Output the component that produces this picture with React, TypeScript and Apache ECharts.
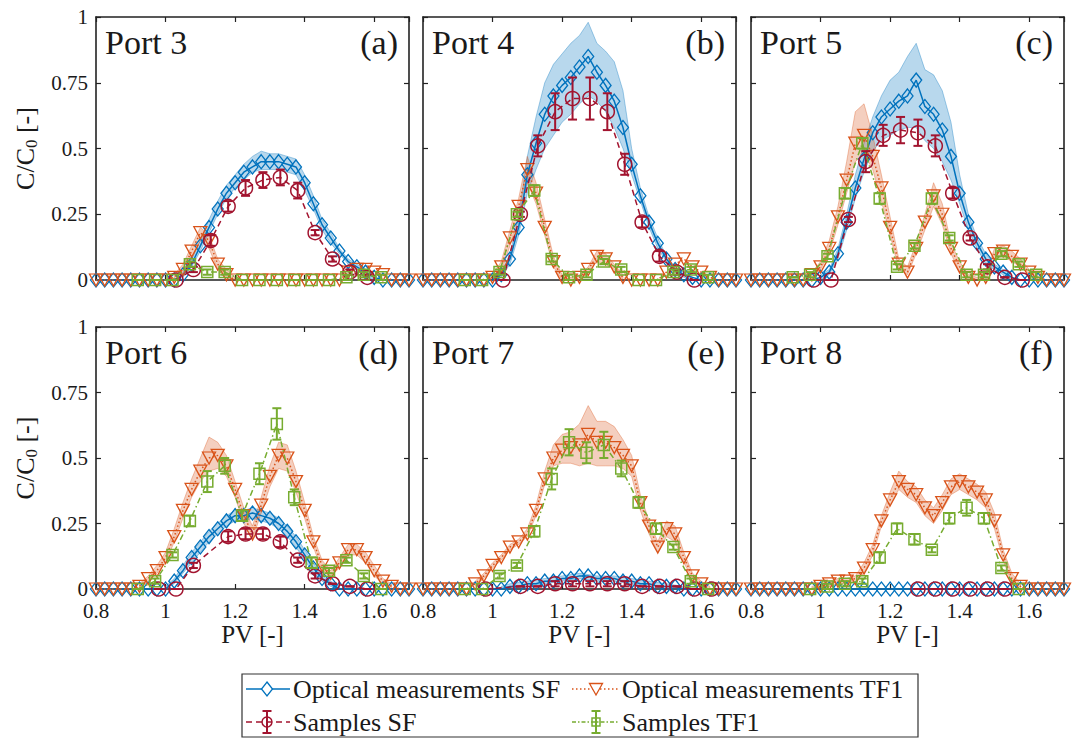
import React, { useEffect, useRef } from "react";
import * as echarts from "echarts";

// ---------------- DATA ----------------
const PV_OPT = [0.8, 0.825, 0.85, 0.875, 0.9, 0.925, 0.95, 0.975, 1, 1.025, 1.05, 1.075, 1.1, 1.125, 1.15, 1.175, 1.2, 1.225, 1.25, 1.275, 1.3, 1.325, 1.35, 1.375, 1.4, 1.425, 1.45, 1.475, 1.5, 1.525, 1.55, 1.575, 1.6, 1.625, 1.65, 1.675, 1.7];

const X_TICK_LABELS = ["0.8", "1", "1.2", "1.4", "1.6"];
const Y_TICK_LABELS = ["0", "0.25", "0.5", "0.75", "1"];
const PORT_NAMES = ["Port 3", "Port 4", "Port 5", "Port 6", "Port 7", "Port 8"];
const PANEL_TAGS = ["(a)", "(b)", "(c)", "(d)", "(e)", "(f)"];
const LEGEND_LABELS = ["Optical measurements SF", "Optical measurements TF1", "Samples SF", "Samples TF1"];

// Optical measurements SF (on PV_OPT)
const OPT_SF_P3 = [0, 0, 0, 0, 0, 0, 0, 0, 0, 0, 0.02, 0.06, 0.13, 0.2, 0.27, 0.33, 0.37, 0.41, 0.43, 0.45, 0.45, 0.45, 0.44, 0.43, 0.37, 0.29, 0.21, 0.16, 0.11, 0.07, 0.05, 0.03, 0.01, 0, 0, 0, 0];
const OPT_SF_P4 = [0, 0, 0, 0, 0, 0, 0, 0, 0, 0.02, 0.08, 0.2, 0.4, 0.52, 0.63, 0.7, 0.74, 0.77, 0.81, 0.85, 0.79, 0.74, 0.68, 0.58, 0.44, 0.32, 0.22, 0.14, 0.08, 0.04, 0.02, 0.01, 0, 0, 0, 0, 0];
const OPT_SF_P5 = [0, 0, 0, 0, 0, 0, 0, 0, 0.01, 0.03, 0.1, 0.22, 0.35, 0.46, 0.56, 0.62, 0.65, 0.68, 0.7, 0.76, 0.66, 0.63, 0.57, 0.47, 0.33, 0.22, 0.14, 0.08, 0.05, 0.03, 0.01, 0, 0, 0, 0, 0, 0];
const OPT_SF_P6 = [0, 0, 0, 0, 0, 0, 0, 0, 0, 0.03, 0.07, 0.12, 0.16, 0.2, 0.23, 0.26, 0.28, 0.28, 0.29, 0.28, 0.27, 0.25, 0.22, 0.18, 0.13, 0.08, 0.04, 0.02, 0, 0, 0, 0, 0, 0, 0, 0, 0];
const OPT_SF_P7 = [0, 0, 0, 0, 0, 0, 0, 0, 0, 0, 0.01, 0.01, 0.02, 0.02, 0.03, 0.03, 0.04, 0.04, 0.05, 0.05, 0.04, 0.04, 0.04, 0.03, 0.03, 0.02, 0.02, 0.01, 0.01, 0.01, 0, 0, 0, 0, 0, 0, 0];
const OPT_SF_P8 = [0, 0, 0, 0, 0, 0, 0, 0, 0, 0, 0, 0, 0, 0, 0, 0, 0, 0, 0, 0, 0, 0, 0, 0, 0, 0, 0, 0, 0, 0, 0, 0, 0, 0, 0, 0, 0];

// Optical measurements TF1 (on PV_OPT)
const OPT_TF_P3 = [0, 0, 0, 0, 0, 0, 0, 0, 0, 0.01, 0.04, 0.11, 0.18, 0.15, 0.06, 0.02, 0, 0, 0, 0, 0, 0, 0, 0, 0, 0, 0, 0, 0, 0.03, 0.04, 0.04, 0.03, 0.02, 0, 0, 0];
const OPT_TF_P4 = [0, 0, 0, 0, 0, 0, 0, 0, 0.01, 0.05, 0.16, 0.28, 0.42, 0.33, 0.2, 0.07, 0.01, 0, 0.01, 0.04, 0.09, 0.08, 0.05, 0.01, 0, 0, 0, 0, 0.03, 0.06, 0.08, 0.05, 0.03, 0.01, 0, 0, 0];
const OPT_TF_P5 = [0, 0, 0, 0, 0, 0, 0, 0.02, 0.05, 0.12, 0.24, 0.38, 0.52, 0.55, 0.47, 0.35, 0.2, 0.06, 0.03, 0.12, 0.22, 0.32, 0.25, 0.12, 0.05, 0.01, 0, 0.01, 0.1, 0.11, 0.09, 0.06, 0.03, 0.01, 0, 0, 0];
const OPT_TF_P6 = [0, 0, 0, 0, 0, 0.01, 0.04, 0.07, 0.12, 0.2, 0.3, 0.38, 0.45, 0.5, 0.51, 0.47, 0.38, 0.28, 0.21, 0.32, 0.43, 0.51, 0.5, 0.41, 0.3, 0.18, 0.09, 0.06, 0.1, 0.15, 0.15, 0.12, 0.07, 0.03, 0.01, 0, 0];
const OPT_TF_P7 = [0, 0, 0, 0, 0, 0, 0.02, 0.05, 0.09, 0.12, 0.16, 0.18, 0.21, 0.3, 0.42, 0.5, 0.53, 0.54, 0.55, 0.59, 0.56, 0.56, 0.54, 0.51, 0.47, 0.33, 0.24, 0.16, 0.23, 0.21, 0.12, 0.05, 0.02, 0, 0, 0, 0];
const OPT_TF_P8 = [0, 0, 0, 0, 0, 0, 0, 0, 0.01, 0.02, 0.03, 0.03, 0.04, 0.08, 0.15, 0.26, 0.34, 0.41, 0.38, 0.36, 0.31, 0.28, 0.33, 0.39, 0.41, 0.39, 0.37, 0.34, 0.26, 0.13, 0.04, 0.01, 0, 0, 0, 0, 0];

// Shaded spread of optical measurements: [PV, lower, upper]
const BAND_SF_P3 = [[1.05, 0.01, 0.03], [1.075, 0.05, 0.08], [1.1, 0.11, 0.15], [1.125, 0.18, 0.23], [1.15, 0.25, 0.3], [1.175, 0.31, 0.36], [1.2, 0.35, 0.4], [1.225, 0.38, 0.44], [1.25, 0.41, 0.47], [1.275, 0.42, 0.49], [1.3, 0.42, 0.48], [1.325, 0.42, 0.48], [1.35, 0.41, 0.47], [1.375, 0.4, 0.46], [1.4, 0.34, 0.4], [1.425, 0.27, 0.32], [1.45, 0.19, 0.23], [1.475, 0.14, 0.18], [1.5, 0.1, 0.12], [1.525, 0.06, 0.08], [1.55, 0.04, 0.06], [1.575, 0.02, 0.04], [1.6, 0, 0.02]];
const BAND_SF_P4 = [[1.0, 0, 0.01], [1.025, 0.01, 0.03], [1.05, 0.06, 0.1], [1.075, 0.17, 0.24], [1.1, 0.33, 0.47], [1.125, 0.42, 0.62], [1.15, 0.5, 0.75], [1.175, 0.55, 0.82], [1.2, 0.6, 0.86], [1.225, 0.63, 0.9], [1.25, 0.67, 0.93], [1.275, 0.7, 0.98], [1.3, 0.68, 0.9], [1.325, 0.64, 0.87], [1.35, 0.58, 0.83], [1.375, 0.5, 0.72], [1.4, 0.4, 0.5], [1.425, 0.3, 0.35], [1.45, 0.2, 0.24], [1.475, 0.12, 0.16], [1.5, 0.07, 0.09], [1.525, 0.03, 0.05], [1.55, 0.01, 0.03], [1.575, 0, 0.01]];
const BAND_SF_P5 = [[1.0, 0, 0.02], [1.025, 0.02, 0.04], [1.05, 0.08, 0.12], [1.075, 0.19, 0.25], [1.1, 0.31, 0.4], [1.125, 0.41, 0.52], [1.15, 0.49, 0.62], [1.175, 0.53, 0.7], [1.2, 0.55, 0.76], [1.225, 0.57, 0.79], [1.25, 0.58, 0.85], [1.275, 0.58, 0.9], [1.3, 0.53, 0.8], [1.325, 0.5, 0.78], [1.35, 0.45, 0.72], [1.375, 0.38, 0.6], [1.4, 0.29, 0.4], [1.425, 0.19, 0.25], [1.45, 0.12, 0.16], [1.475, 0.06, 0.1], [1.5, 0.04, 0.06], [1.525, 0.02, 0.04], [1.55, 0, 0.02]];
const BAND_SF_P6 = [[1.0, 0, 0.01], [1.025, 0.02, 0.04], [1.05, 0.06, 0.09], [1.075, 0.1, 0.14], [1.1, 0.14, 0.18], [1.125, 0.18, 0.22], [1.15, 0.21, 0.25], [1.175, 0.24, 0.28], [1.2, 0.26, 0.3], [1.225, 0.26, 0.3], [1.25, 0.27, 0.31], [1.275, 0.26, 0.3], [1.3, 0.25, 0.29], [1.325, 0.23, 0.27], [1.35, 0.2, 0.24], [1.375, 0.16, 0.2], [1.4, 0.11, 0.15], [1.425, 0.06, 0.1], [1.45, 0.03, 0.05], [1.475, 0.01, 0.03], [1.5, 0, 0.01]];
const BAND_SF_P7 = [[1.025, 0, 0.01], [1.05, 0, 0.02], [1.1, 0.01, 0.03], [1.15, 0.02, 0.04], [1.2, 0.03, 0.05], [1.25, 0.04, 0.06], [1.3, 0.03, 0.05], [1.35, 0.03, 0.05], [1.4, 0.02, 0.04], [1.45, 0.01, 0.03], [1.5, 0, 0.02], [1.55, 0, 0.01]];
const BAND_SF_P8: number[][] = [];

const BAND_TF_P3 = [[1.025, 0, 0.02], [1.05, 0.02, 0.06], [1.075, 0.08, 0.13], [1.1, 0.15, 0.2], [1.125, 0.12, 0.17], [1.15, 0.04, 0.08], [1.175, 0, 0.04], [1.2, 0, 0.01]];
const BAND_TF_P4 = [[1.0, 0, 0.02], [1.025, 0.03, 0.07], [1.05, 0.13, 0.19], [1.075, 0.24, 0.31], [1.1, 0.37, 0.47], [1.125, 0.29, 0.37], [1.15, 0.17, 0.23], [1.175, 0.05, 0.09], [1.2, 0, 0.02], [1.225, 0, 0.01], [1.25, 0, 0.02], [1.275, 0.03, 0.05], [1.3, 0.07, 0.11], [1.325, 0.06, 0.1], [1.35, 0.04, 0.06], [1.375, 0, 0.02]];
const BAND_TF_P5 = [[0.95, 0, 0.01], [0.975, 0.01, 0.03], [1.0, 0.04, 0.07], [1.025, 0.1, 0.15], [1.05, 0.21, 0.28], [1.075, 0.33, 0.45], [1.1, 0.45, 0.64], [1.125, 0.48, 0.67], [1.15, 0.42, 0.55], [1.175, 0.3, 0.4], [1.2, 0.17, 0.24], [1.225, 0.04, 0.08], [1.25, 0.02, 0.05], [1.275, 0.1, 0.14], [1.3, 0.19, 0.25], [1.325, 0.28, 0.37], [1.35, 0.21, 0.29], [1.375, 0.1, 0.14], [1.4, 0.03, 0.07], [1.425, 0, 0.02], [1.45, 0, 0.01], [1.475, 0, 0.02], [1.5, 0.08, 0.12], [1.525, 0.09, 0.13], [1.55, 0.07, 0.11], [1.575, 0.05, 0.08], [1.6, 0.02, 0.04], [1.625, 0, 0.02]];
const BAND_TF_P6 = [[0.925, 0, 0.02], [0.95, 0.03, 0.05], [0.975, 0.06, 0.09], [1.0, 0.1, 0.14], [1.025, 0.18, 0.23], [1.05, 0.27, 0.33], [1.075, 0.35, 0.42], [1.1, 0.41, 0.5], [1.125, 0.45, 0.58], [1.15, 0.46, 0.56], [1.175, 0.43, 0.51], [1.2, 0.35, 0.41], [1.225, 0.25, 0.31], [1.25, 0.19, 0.24], [1.275, 0.29, 0.35], [1.3, 0.39, 0.47], [1.325, 0.46, 0.56], [1.35, 0.45, 0.55], [1.375, 0.37, 0.45], [1.4, 0.27, 0.33], [1.425, 0.16, 0.2], [1.45, 0.07, 0.11], [1.475, 0.05, 0.07], [1.5, 0.08, 0.12], [1.525, 0.13, 0.17], [1.55, 0.13, 0.17], [1.575, 0.1, 0.14], [1.6, 0.05, 0.09], [1.625, 0.02, 0.04], [1.65, 0, 0.02]];
const BAND_TF_P7 = [[0.95, 0.01, 0.03], [0.975, 0.04, 0.06], [1.0, 0.08, 0.1], [1.025, 0.11, 0.13], [1.05, 0.15, 0.17], [1.075, 0.17, 0.19], [1.1, 0.2, 0.23], [1.125, 0.28, 0.32], [1.15, 0.4, 0.45], [1.175, 0.47, 0.55], [1.2, 0.48, 0.59], [1.225, 0.48, 0.6], [1.25, 0.47, 0.63], [1.275, 0.48, 0.7], [1.3, 0.47, 0.64], [1.325, 0.47, 0.64], [1.35, 0.47, 0.62], [1.375, 0.46, 0.57], [1.4, 0.43, 0.51], [1.425, 0.3, 0.36], [1.45, 0.21, 0.26], [1.475, 0.14, 0.18], [1.5, 0.2, 0.26], [1.525, 0.18, 0.24], [1.55, 0.1, 0.14], [1.575, 0.04, 0.06], [1.6, 0.01, 0.03], [1.625, 0, 0.01]];
const BAND_TF_P8 = [[0.975, 0, 0.01], [1.0, 0, 0.02], [1.025, 0.01, 0.03], [1.05, 0.02, 0.04], [1.075, 0.02, 0.04], [1.1, 0.03, 0.05], [1.125, 0.06, 0.1], [1.15, 0.13, 0.17], [1.175, 0.24, 0.28], [1.2, 0.32, 0.37], [1.225, 0.38, 0.45], [1.25, 0.35, 0.41], [1.275, 0.33, 0.39], [1.3, 0.28, 0.34], [1.325, 0.25, 0.31], [1.35, 0.3, 0.36], [1.375, 0.36, 0.42], [1.4, 0.38, 0.44], [1.425, 0.36, 0.42], [1.45, 0.34, 0.4], [1.475, 0.31, 0.37], [1.5, 0.23, 0.29], [1.525, 0.11, 0.15], [1.55, 0.02, 0.06], [1.575, 0, 0.02]];

// Samples SF: PV, value, error
const PV_SMP_SF_P3 = [1.03, 1.08, 1.13, 1.18, 1.23, 1.28, 1.33, 1.38, 1.43, 1.48, 1.53, 1.58];
const SMP_SF_P3 = [0, 0.04, 0.15, 0.28, 0.35, 0.38, 0.39, 0.34, 0.18, 0.08, 0.03, 0.01];
const ERR_SF_P3 = [0, 0.01, 0.02, 0.02, 0.03, 0.03, 0.03, 0.03, 0.01, 0.01, 0.01, 0.01];
const PV_SMP_SF_P4 = [1.03, 1.08, 1.13, 1.18, 1.23, 1.28, 1.33, 1.38, 1.43, 1.48, 1.53, 1.58];
const SMP_SF_P4 = [0, 0.25, 0.51, 0.64, 0.69, 0.69, 0.64, 0.44, 0.22, 0.09, 0.03, 0];
const ERR_SF_P4 = [0, 0.01, 0.04, 0.07, 0.08, 0.08, 0.07, 0.04, 0.02, 0.02, 0.01, 0];
const PV_SMP_SF_P5 = [0.98, 1.03, 1.08, 1.13, 1.18, 1.23, 1.28, 1.33, 1.38, 1.43, 1.48, 1.53, 1.58];
const SMP_SF_P5 = [0, 0, 0.23, 0.45, 0.55, 0.57, 0.56, 0.51, 0.33, 0.16, 0.05, 0.01, 0];
const ERR_SF_P5 = [0, 0, 0.01, 0.04, 0.04, 0.05, 0.05, 0.04, 0.02, 0.01, 0.01, 0, 0];
const PV_SMP_SF_P6 = [0.98, 1.03, 1.08, 1.18, 1.23, 1.28, 1.33, 1.38, 1.43, 1.48, 1.53, 1.58];
const SMP_SF_P6 = [0, 0, 0.09, 0.2, 0.21, 0.21, 0.18, 0.11, 0.05, 0.02, 0.01, 0];
const ERR_SF_P6 = [0, 0, 0.01, 0.02, 0.02, 0.02, 0.02, 0.01, 0.01, 0, 0, 0];
const PV_SMP_SF_P7 = [0.98, 1.08, 1.13, 1.18, 1.23, 1.28, 1.33, 1.38, 1.43, 1.48, 1.53, 1.58, 1.63];
const SMP_SF_P7 = [0, 0.01, 0.01, 0.02, 0.02, 0.02, 0.02, 0.02, 0.01, 0.01, 0.01, 0, 0];
const ERR_SF_P7 = [0, 0, 0, 0.01, 0.01, 0.01, 0.01, 0.01, 0, 0, 0, 0, 0];
const PV_SMP_SF_P8 = [1.28, 1.33, 1.38, 1.43, 1.48, 1.53];
const SMP_SF_P8 = [0, 0, 0, 0, 0, 0];
const ERR_SF_P8 = [0, 0, 0, 0, 0, 0];

// Samples TF1: PV, value, error
const PV_SMP_TF = [0.92, 0.97, 1.02, 1.07, 1.12, 1.17, 1.22, 1.27, 1.32, 1.37, 1.42, 1.47, 1.52, 1.57, 1.62];
const SMP_TF_P3 = [0, 0, 0, 0.06, 0.03, 0.03, 0, 0, 0, 0, 0, 0, 0.01, 0.02, 0.01];
const ERR_TF_P3 = [0, 0, 0, 0.01, 0.01, 0.01, 0, 0, 0, 0, 0, 0, 0.01, 0.01, 0.01];
const SMP_TF_P4 = [0, 0, 0.03, 0.25, 0.34, 0.08, 0.01, 0.02, 0.07, 0.04, 0, 0, 0.03, 0.04, 0.01];
const ERR_TF_P4 = [0, 0, 0.01, 0.01, 0.02, 0.01, 0.01, 0.01, 0.01, 0.01, 0, 0, 0.01, 0.01, 0.01];
const SMP_TF_P5 = [0.01, 0.02, 0.09, 0.33, 0.52, 0.31, 0.05, 0.13, 0.31, 0.16, 0.02, 0.02, 0.1, 0.06, 0.02];
const ERR_TF_P5 = [0, 0.01, 0.01, 0.02, 0.02, 0.02, 0.01, 0.01, 0.02, 0.01, 0.01, 0.01, 0.01, 0.01, 0.01];
const SMP_TF_P6 = [0, 0.03, 0.13, 0.26, 0.41, 0.47, 0.28, 0.44, 0.63, 0.35, 0.1, 0.07, 0.11, 0.05, 0];
const ERR_TF_P6 = [0, 0.01, 0.01, 0.02, 0.04, 0.03, 0.02, 0.04, 0.06, 0.03, 0.02, 0.01, 0.01, 0.01, 0];
const PV_SMP_TF_P7 = [0.92, 0.97, 1.02, 1.07, 1.12, 1.17, 1.22, 1.27, 1.32, 1.37, 1.42, 1.47, 1.52, 1.57, 1.62];
const SMP_TF_P7 = [0, 0, 0.05, 0.09, 0.22, 0.42, 0.56, 0.52, 0.55, 0.46, 0.33, 0.23, 0.16, 0.03, 0];
const ERR_TF_P7 = [0, 0, 0.01, 0.01, 0.02, 0.04, 0.05, 0.04, 0.05, 0.03, 0.02, 0.02, 0.01, 0.01, 0];
const PV_SMP_TF_P8 = [0.97, 1.02, 1.07, 1.12, 1.17, 1.22, 1.27, 1.32, 1.37, 1.42, 1.47, 1.52, 1.57];
const SMP_TF_P8 = [0, 0.01, 0.02, 0.03, 0.12, 0.23, 0.19, 0.15, 0.27, 0.31, 0.27, 0.08, 0];
const ERR_TF_P8 = [0, 0.01, 0.01, 0.01, 0.02, 0.02, 0.02, 0.01, 0.02, 0.03, 0.02, 0.01, 0];

// ---------------- STYLE / LAYOUT ----------------
const C_SF = "#0072BD";
const C_TF = "#D95319";
const C_SSF = "#A2142F";
const C_STF = "#77AC30";
const BAND_SF_FILL = "rgba(0,114,189,0.28)";
const BAND_SF_EDGE = "rgba(0,114,189,0.35)";
const BAND_TF_FILL = "rgba(217,83,25,0.28)";
const BAND_TF_EDGE = "rgba(217,83,25,0.35)";
const FONT = "Liberation Serif";
const TXT = "#1a1a1a";
const AX = "#222";

const GRID_LEFT = [96, 423, 751];
const GRID_TOP = [17, 327];
const GRID_W = 313;
const GRID_H = [263, 262];

const PANELS = [
  { optSF: OPT_SF_P3, optTF: OPT_TF_P3, bandSF: BAND_SF_P3, bandTF: BAND_TF_P3, sfX: PV_SMP_SF_P3, sfY: SMP_SF_P3, sfE: ERR_SF_P3, tfX: PV_SMP_TF, tfY: SMP_TF_P3, tfE: ERR_TF_P3 },
  { optSF: OPT_SF_P4, optTF: OPT_TF_P4, bandSF: BAND_SF_P4, bandTF: BAND_TF_P4, sfX: PV_SMP_SF_P4, sfY: SMP_SF_P4, sfE: ERR_SF_P4, tfX: PV_SMP_TF, tfY: SMP_TF_P4, tfE: ERR_TF_P4 },
  { optSF: OPT_SF_P5, optTF: OPT_TF_P5, bandSF: BAND_SF_P5, bandTF: BAND_TF_P5, sfX: PV_SMP_SF_P5, sfY: SMP_SF_P5, sfE: ERR_SF_P5, tfX: PV_SMP_TF, tfY: SMP_TF_P5, tfE: ERR_TF_P5 },
  { optSF: OPT_SF_P6, optTF: OPT_TF_P6, bandSF: BAND_SF_P6, bandTF: BAND_TF_P6, sfX: PV_SMP_SF_P6, sfY: SMP_SF_P6, sfE: ERR_SF_P6, tfX: PV_SMP_TF, tfY: SMP_TF_P6, tfE: ERR_TF_P6 },
  { optSF: OPT_SF_P7, optTF: OPT_TF_P7, bandSF: BAND_SF_P7, bandTF: BAND_TF_P7, sfX: PV_SMP_SF_P7, sfY: SMP_SF_P7, sfE: ERR_SF_P7, tfX: PV_SMP_TF_P7, tfY: SMP_TF_P7, tfE: ERR_TF_P7 },
  { optSF: OPT_SF_P8, optTF: OPT_TF_P8, bandSF: BAND_SF_P8, bandTF: BAND_TF_P8, sfX: PV_SMP_SF_P8, sfY: SMP_SF_P8, sfE: ERR_SF_P8, tfX: PV_SMP_TF_P8, tfY: SMP_TF_P8, tfE: ERR_TF_P8 },
];

function zip(xs: number[], ys: number[]) {
  return xs.map((x, i) => [x, ys[i]]);
}

function bandSeries(band: number[][], xi: number, yi: number, fill: string, stroke: string) {
  return {
    type: "custom",
    xAxisIndex: xi,
    yAxisIndex: yi,
    silent: true,
    clip: false,
    z: 1,
    data: band,
    renderItem: (params: any, api: any) => {
      if (params.dataIndex !== 0) return null;
      const top = band.map((d) => api.coord([d[0], d[2]]));
      const bot = band.slice().reverse().map((d) => api.coord([d[0], d[1]]));
      return {
        type: "polygon",
        shape: { points: top.concat(bot) },
        style: { fill, stroke, lineWidth: 1 },
      };
    },
  };
}

function errSeries(xs: number[], ys: number[], es: number[], xi: number, yi: number, color: string, z: number) {
  return {
    type: "custom",
    xAxisIndex: xi,
    yAxisIndex: yi,
    silent: true,
    clip: false,
    z,
    data: xs.map((x, i) => [x, ys[i], es[i]]),
    renderItem: (params: any, api: any) => {
      const x = api.value(0);
      const y = api.value(1);
      const e = api.value(2);
      const pt = api.coord([x, y + e]);
      const pb = api.coord([x, y - e]);
      const hw = 4.5;
      const st = { stroke: color, lineWidth: 2 };
      return {
        type: "group",
        children: [
          { type: "line", shape: { x1: pt[0], y1: pt[1], x2: pb[0], y2: pb[1] }, style: st },
          { type: "line", shape: { x1: pt[0] - hw, y1: pt[1], x2: pt[0] + hw, y2: pt[1] }, style: st },
          { type: "line", shape: { x1: pb[0] - hw, y1: pb[1], x2: pb[0] + hw, y2: pb[1] }, style: st },
        ],
      };
    },
  };
}

function buildOption() {
  const grids: any[] = [];
  const xAxes: any[] = [];
  const yAxes: any[] = [];
  const series: any[] = [];
  const graphics: any[] = [];

  const axisLine = { show: true, onZero: false, lineStyle: { color: AX, width: 1.6 } };
  const axisTick = { show: true, inside: true, length: 5, lineStyle: { color: AX, width: 1.2 } };

  PANELS.forEach((p, i) => {
    const row = Math.floor(i / 3);
    const col = i % 3;
    const left = GRID_LEFT[col];
    const top = GRID_TOP[row];
    const h = GRID_H[row];
    grids.push({ left, top, width: GRID_W, height: h, show: false });

    const xBase = {
      gridIndex: i,
      type: "value",
      min: 0.8,
      max: 1.7,
      interval: 0.2,
      splitLine: { show: false },
      axisLine,
      axisTick,
    };
    xAxes.push({
      ...xBase,
      position: "bottom",
      axisLabel: {
        show: row === 1,
        showMaxLabel: false,
        margin: 11,
        fontFamily: FONT,
        fontSize: 21,
        color: TXT,
        formatter: (v: number) => {
          const s = String(Math.round(v * 10) / 10);
          return X_TICK_LABELS.indexOf(s) >= 0 ? s : "";
        },
      },
      name: row === 1 ? "PV [-]" : "",
      nameLocation: "middle",
      nameGap: 32,
      nameTextStyle: { fontFamily: FONT, fontSize: 25, color: TXT },
    });
    xAxes.push({ ...xBase, position: "top", axisLabel: { show: false } });

    const yBase = {
      gridIndex: i,
      type: "value",
      min: 0,
      max: 1,
      interval: 0.25,
      splitLine: { show: false },
      axisLine,
      axisTick,
    };
    yAxes.push({
      ...yBase,
      position: "left",
      axisLabel: {
        show: col === 0,
        margin: 8,
        fontFamily: FONT,
        fontSize: 21,
        color: TXT,
        formatter: (v: number) => {
          const s = String(Math.round(v * 100) / 100);
          return Y_TICK_LABELS.indexOf(s) >= 0 ? s : "";
        },
      },
      name: col === 0 ? "C/C{sub|0} [-]" : "",
      nameLocation: "middle",
      nameRotate: 90,
      nameGap: 56,
      nameTextStyle: {
        fontFamily: FONT,
        fontSize: 26,
        color: TXT,
        rich: { sub: { fontFamily: FONT, fontSize: 17, color: TXT, padding: [12, 0, 0, 0] } },
      },
    });
    yAxes.push({ ...yBase, position: "right", axisLabel: { show: false } });

    const xi = 2 * i;
    const yi = 2 * i;

    if (p.bandSF.length) series.push(bandSeries(p.bandSF, xi, yi, BAND_SF_FILL, BAND_SF_EDGE));
    if (p.bandTF.length) series.push(bandSeries(p.bandTF, xi, yi, BAND_TF_FILL, BAND_TF_EDGE));

    series.push({
      type: "line",
      name: LEGEND_LABELS[0],
      xAxisIndex: xi,
      yAxisIndex: yi,
      data: zip(PV_OPT, p.optSF),
      clip: false,
      z: 2,
      symbol: "diamond",
      symbolSize: [11, 14],
      showSymbol: true,
      showAllSymbol: true,
      lineStyle: { color: C_SF, width: 1.5, type: "solid" },
      itemStyle: { color: "rgba(255,255,255,0)", borderColor: C_SF, borderWidth: 1.3 },
    });
    series.push({
      type: "line",
      name: LEGEND_LABELS[1],
      xAxisIndex: xi,
      yAxisIndex: yi,
      data: zip(PV_OPT, p.optTF),
      clip: false,
      z: 3,
      symbol: "triangle",
      symbolRotate: 180,
      symbolSize: [13, 12],
      showSymbol: true,
      showAllSymbol: true,
      lineStyle: { color: C_TF, width: 1.5, type: [1.5, 2.5] },
      itemStyle: { color: "rgba(255,255,255,0)", borderColor: C_TF, borderWidth: 1.3 },
    });
    series.push({
      type: "line",
      name: LEGEND_LABELS[2],
      xAxisIndex: xi,
      yAxisIndex: yi,
      data: zip(p.sfX, p.sfY),
      clip: false,
      z: 4,
      symbol: "circle",
      symbolSize: 14,
      showSymbol: true,
      showAllSymbol: true,
      lineStyle: { color: C_SSF, width: 1.5, type: [6, 4] },
      itemStyle: { color: "rgba(255,255,255,0)", borderColor: C_SSF, borderWidth: 1.5 },
    });
    series.push(errSeries(p.sfX, p.sfY, p.sfE, xi, yi, C_SSF, 4));
    series.push({
      type: "line",
      name: LEGEND_LABELS[3],
      xAxisIndex: xi,
      yAxisIndex: yi,
      data: zip(p.tfX, p.tfY),
      clip: false,
      z: 5,
      symbol: "rect",
      symbolSize: 11,
      showSymbol: true,
      showAllSymbol: true,
      lineStyle: { color: C_STF, width: 1.5, type: [6, 3, 1.5, 3] },
      itemStyle: { color: "rgba(255,255,255,0)", borderColor: C_STF, borderWidth: 1.5 },
    });
    series.push(errSeries(p.tfX, p.tfY, p.tfE, xi, yi, C_STF, 5));

    graphics.push({
      type: "text",
      x: left + 9,
      y: top + 25,
      z: 10,
      style: { text: PORT_NAMES[i], fontFamily: FONT, fontSize: 34, fill: TXT, align: "left", verticalAlign: "middle" },
    });
    graphics.push({
      type: "text",
      x: left + GRID_W - 11,
      y: top + 25,
      z: 10,
      style: { text: PANEL_TAGS[i], fontFamily: FONT, fontSize: 34, fill: TXT, align: "right", verticalAlign: "middle" },
    });
  });

  // ---- legend (drawn) ----
  const LX = 242, LY = 674, LW = 676, LH = 63;
  const r1 = 689, r2 = 722;
  const c1a = 246, c1b = 290, c1m = 267, t1 = 293;
  const c2a = 572, c2b = 618, c2m = 596, t2 = 622;
  graphics.push({ type: "rect", shape: { x: LX, y: LY, width: LW, height: LH }, style: { fill: "#fff", stroke: "#333", lineWidth: 1.2 }, z: 20 });
  const ls = (stroke: string, dash?: number[]) => ({ stroke, lineWidth: 1.5, lineDash: dash });
  graphics.push({ type: "line", z: 21, shape: { x1: c1a, y1: r1, x2: c1b, y2: r1 }, style: ls(C_SF) });
  graphics.push({ type: "polygon", z: 22, shape: { points: [[c1m, r1 - 7], [c1m + 5.5, r1], [c1m, r1 + 7], [c1m - 5.5, r1]] }, style: { fill: "#fff", stroke: C_SF, lineWidth: 1.3 } });
  graphics.push({ type: "line", z: 21, shape: { x1: c2a, y1: r1, x2: c2b, y2: r1 }, style: ls(C_TF, [1.5, 2.5]) });
  graphics.push({ type: "polygon", z: 22, shape: { points: [[c2m - 6.5, r1 - 5.5], [c2m + 6.5, r1 - 5.5], [c2m, r1 + 6]] }, style: { fill: "#fff", stroke: C_TF, lineWidth: 1.3 } });
  graphics.push({ type: "line", z: 21, shape: { x1: c1a, y1: r2, x2: c1b, y2: r2 }, style: ls(C_SSF, [6, 4]) });
  graphics.push({ type: "line", z: 22, shape: { x1: c1m, y1: r2 - 11, x2: c1m, y2: r2 + 11 }, style: { stroke: C_SSF, lineWidth: 2 } });
  graphics.push({ type: "line", z: 22, shape: { x1: c1m - 4.5, y1: r2 - 11, x2: c1m + 4.5, y2: r2 - 11 }, style: { stroke: C_SSF, lineWidth: 2 } });
  graphics.push({ type: "line", z: 22, shape: { x1: c1m - 4.5, y1: r2 + 11, x2: c1m + 4.5, y2: r2 + 11 }, style: { stroke: C_SSF, lineWidth: 2 } });
  graphics.push({ type: "circle", z: 23, shape: { cx: c1m, cy: r2, r: 5 }, style: { fill: "rgba(255,255,255,0)", stroke: C_SSF, lineWidth: 1.5 } });
  graphics.push({ type: "line", z: 21, shape: { x1: c2a, y1: r2, x2: c2b, y2: r2 }, style: ls(C_STF, [4, 2, 1.5, 2]) });
  graphics.push({ type: "line", z: 22, shape: { x1: c2m, y1: r2 - 11, x2: c2m, y2: r2 + 11 }, style: { stroke: C_STF, lineWidth: 2 } });
  graphics.push({ type: "line", z: 22, shape: { x1: c2m - 4.5, y1: r2 - 11, x2: c2m + 4.5, y2: r2 - 11 }, style: { stroke: C_STF, lineWidth: 2 } });
  graphics.push({ type: "line", z: 22, shape: { x1: c2m - 4.5, y1: r2 + 11, x2: c2m + 4.5, y2: r2 + 11 }, style: { stroke: C_STF, lineWidth: 2 } });
  graphics.push({ type: "rect", z: 23, shape: { x: c2m - 4, y: r2 - 4, width: 8, height: 8 }, style: { fill: "rgba(255,255,255,0)", stroke: C_STF, lineWidth: 1.5 } });
  const lt = (x: number, y: number, text: string) => ({
    type: "text", x, y, z: 24,
    style: { text, fontFamily: FONT, fontSize: 26, fill: TXT, align: "left", verticalAlign: "middle" },
  });
  graphics.push(lt(t1, r1, LEGEND_LABELS[0]));
  graphics.push(lt(t2, r1, LEGEND_LABELS[1]));
  graphics.push(lt(t1, r2, LEGEND_LABELS[2]));
  graphics.push(lt(t2, r2, LEGEND_LABELS[3]));

  return {
    animation: false,
    backgroundColor: "#fff",
    textStyle: { fontFamily: FONT },
    grid: grids,
    xAxis: xAxes,
    yAxis: yAxes,
    series,
    graphic: graphics,
  };
}

export default function App() {
  const ref = useRef<HTMLDivElement>(null);
  useEffect(() => {
    if (!ref.current) return;
    const chart = echarts.init(ref.current, null, { renderer: "svg" });
    chart.setOption(buildOption() as any);
    return () => chart.dispose();
  }, []);
  return (
    <div
      ref={ref}
      style={{ position: "fixed", left: 0, top: 0, width: 1077, height: 738, background: "#fff" }}
    />
  );
}
